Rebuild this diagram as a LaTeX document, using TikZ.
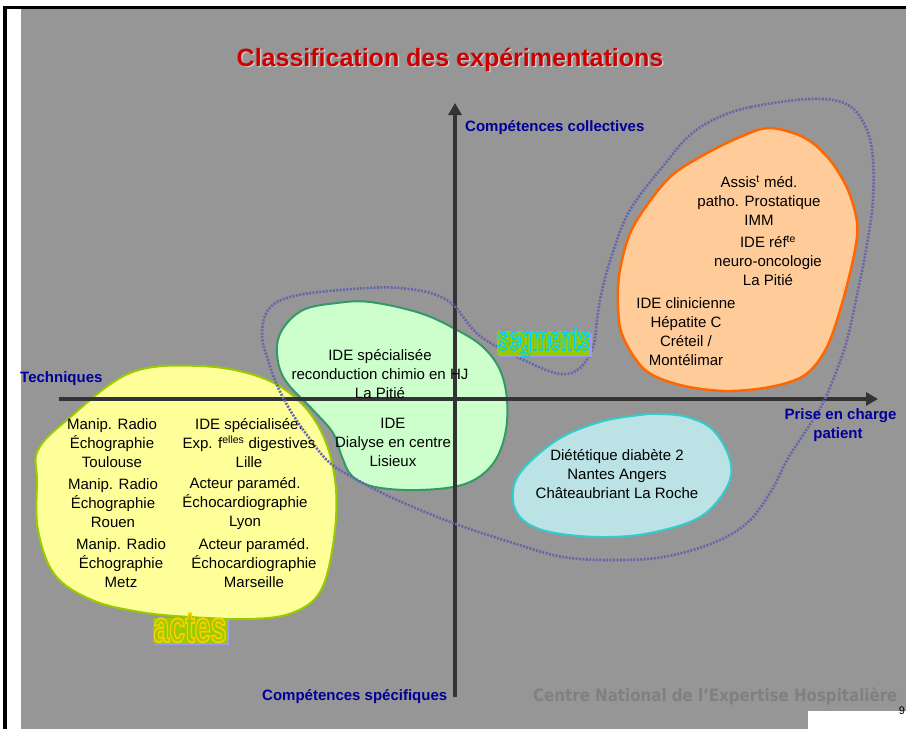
\documentclass[tikz,border=0pt]{standalone}
\usepackage{fontspec}
\setmainfont{Liberation Sans}
\newfontfamily\dejavu{DejaVu Sans}
\newfontfamily\wordartfont[FakeBold=4.5]{Liberation Sans Bold}
\usepackage{graphicx}
\usetikzlibrary{arrows.meta}
\definecolor{bggray}{HTML}{969696}
\definecolor{axisgray}{HTML}{333333}
\definecolor{titlered}{HTML}{CC0000}
\definecolor{labelblue}{HTML}{000099}
\definecolor{loopblue}{HTML}{6666AA}
\definecolor{yelfill}{HTML}{FFFF99}
\definecolor{yeldraw}{HTML}{99CC00}
\definecolor{grnfill}{HTML}{CCFFCC}
\definecolor{grndraw}{HTML}{339966}
\definecolor{orgfill}{HTML}{FFCC99}
\definecolor{orgdraw}{HTML}{FF6600}
\definecolor{tealfill}{HTML}{BBE2E5}
\definecolor{tealdraw}{HTML}{33CCCC}
\definecolor{olive}{HTML}{99CC00}
\definecolor{wshadow}{HTML}{9999FF}
\definecolor{cnehgray}{HTML}{808080}
\begin{document}
\begin{tikzpicture}[x=1pt,y=-1pt,
  blobtext/.style={align=center, inner sep=0pt, text=black, font=\fontsize{15}{19}\selectfont},
  axislabel/.style={inner sep=0pt, text=labelblue, font=\fontsize{15}{18}\selectfont\bfseries},
  axisline/.style={draw=axisgray, line width=4.5pt, -{Triangle[length=12pt,width=13pt]}},
  blob/.style={line width=2pt, line join=round},
  dottedloop/.style={draw=loopblue, line width=2.6pt, dash pattern=on 2pt off 1.4pt},
  wordart/.style={inner sep=0pt, anchor=base}
]
\useasboundingbox (0,0) rectangle (906,729);
% background and frame
\fill[white] (0,0) rectangle (906,729);
\fill[bggray] (21,9) rectangle (906,729);
\fill[white] (808,711) rectangle (906,729);
\fill[black] (3,6) rectangle (906,9);
\fill[black] (3,6) rectangle (7,729);
\node[inner sep=0pt, font=\fontsize{11}{12}\selectfont] (pagenum) at (902,711) {9};

% title
\node[inner sep=0pt, anchor=base, text=black!20, font=\fontsize{25}{28}\selectfont\bfseries] (titleshadow) at (451.5,67.5) {Classification des expérimentations};
\node[inner sep=0pt, anchor=base, text=titlered, font=\fontsize{25}{28}\selectfont\bfseries] (title) at (450,66) {Classification des expérimentations};

% blobs
\draw[blob, fill=yelfill, draw=yeldraw] plot[smooth cycle, tension=0.6] coordinates {
 (200,366) (260,377) (300,402) (325,440) (336,490) (333,545) (320,592) (292,613) (250,619) (190,617) (140,612) (92,600) (55,575) (38,530) (37,480) (38,450) (67,420) (130,373)};
\draw[blob, fill=grnfill, draw=grndraw] plot[smooth cycle, tension=0.6] coordinates {
 (303,310) (337,303) (370,302) (420,313) (457,330) (483,347) (500,370) (507,400) (505,435) (492,465) (465,484) (420,490) (375,487) (352,476) (342,457) (333,433) (313,410) (285,380) (277,353) (282,330)};
\draw[blob, line width=2.5pt, fill=orgfill, draw=orgdraw] plot[smooth cycle, tension=0.55] coordinates {
 (770,128) (805,138) (830,160) (848,190) (857,222) (855,250) (843,300) (827,347) (805,375) (770,387) (725,391) (680,385) (645,370) (623,337) (618,307) (620,270) (633,227) (667,180) (700,157) (740,137)};
\draw[blob, fill=tealfill, draw=tealdraw] plot[smooth cycle, tension=0.6] coordinates {
 (660,414) (687,417) (713,430) (730,460) (727,487) (700,517) (650,533) (600,537) (550,532) (523,520) (513,500) (520,473) (557,440) (600,422) (640,415)};

% axes
\coordinate (hstart) at (59,399);
\coordinate (hend) at (878,399);
\coordinate (vstart) at (455,697);
\coordinate (vend) at (455,103);
\draw[axisline] (hstart) -- (hend);
\draw[axisline] (vstart) -- (vend);

% dotted loop
\draw[dottedloop] plot[smooth cycle, tension=0.6] coordinates {
 (717,118) (751,107) (809,99) (844,103) (862,120) (872,150) (873,200) (866,250) (858,290) (847,340) (835,375) (822,405) (805,432) (787,460) (770,493) (747,523) (713,543) (663,557) (613,560) (563,557) (513,543) (453,523) (397,500) (363,483) (330,463) (307,435) (290,410) (277,385) (268,360) (262,335) (268,310) (290,297) (340,290) (400,288) (447,300) (480,336) (530,363) (561,374) (580,368) (593,347) (597,320) (601,295) (611,258) (630,210) (668,160) (690,135)};

% axis labels
\node[axislabel, anchor=base west] (collectives) at (465,131.5) {Compétences collectives};
\node[axislabel, anchor=base west] (techniques) at (20,382.5) {Techniques};
\node[axislabel, anchor=base] (prise) at (840.5,419.5) {Prise en charge};
\node[axislabel, anchor=base] (patient) at (838,438.5) {patient};
\node[axislabel, anchor=base west] (specifiques) at (262,700.5) {Compétences spécifiques};
\node[inner sep=0pt, anchor=base west, text=cnehgray, font=\dejavu\fontsize{17}{20}\selectfont\bfseries] (cneh) at (533,701) {\scalebox{0.885}[1]{Centre National de l’Expertise Hospitalière}};

% blob texts
\node[blobtext] (o1) at (759,200.5) {Assis\textsuperscript{t} méd.\\patho. Prostatique\\IMM};
\node[blobtext] (o2) at (768,260.5) {IDE réf\textsuperscript{te}\\neuro-oncologie\\La Pitié};
\node[blobtext] (o3) at (686,332) {IDE clinicienne\\Hépatite C\\Créteil /\\Montélimar};
\node[blobtext] (g1) at (380,374.5) {IDE spécialisée\\reconduction chimio en HJ\\La Pitié};
\node[blobtext] (g2) at (393,442.5) {IDE\\Dialyse en centre\\Lisieux};
\node[blobtext] (y1) at (112,443.5) {Manip. Radio\\Échographie\\Toulouse};
\node[blobtext] (y2) at (113,503.5) {Manip. Radio\\Échographie\\Rouen};
\node[blobtext] (y3) at (121,563.5) {Manip. Radio\\Échographie\\Metz};
\node[blobtext] (y4) at (249,443.5) {IDE spécialisée.\\Exp. f\textsuperscript{elles} digestives\\Lille};
\node[blobtext] (y5) at (245,503.5) {Acteur paraméd.\\Échocardiographie\\Lyon};
\node[blobtext] (y6) at (254,563.5) {Acteur paraméd.\\Échocardiographie\\Marseille};
\node[blobtext] (t1) at (617,474.5) {Diététique diabète 2\\Nantes Angers\\Châteaubriant La Roche};

% word art: segments (olive fill, cyan outline)
\fill[wshadow] (499,333) rectangle (592,356.5);
\fill[olive] (497,331) rectangle (590,355);
\node[wordart, font=\wordartfont\fontsize{34}{36}\selectfont] (segments) at (544,350)
  {\color{olive}\special{pdf:literal direct 0 0.8 1 RG}\scalebox{0.585}[1]{segments}};

% word art: actes (olive fill, yellow outline)
\fill[wshadow] (155,620) rectangle (229,645);
\fill[olive] (153,618) rectangle (227,643);
\node[wordart, font=\wordartfont\fontsize{44}{46}\selectfont] (actes) at (190,642)
  {\color{olive}\special{pdf:literal direct 1 0.8 0 RG}\scalebox{0.65}[1]{actes}};
\end{tikzpicture}
\end{document}
